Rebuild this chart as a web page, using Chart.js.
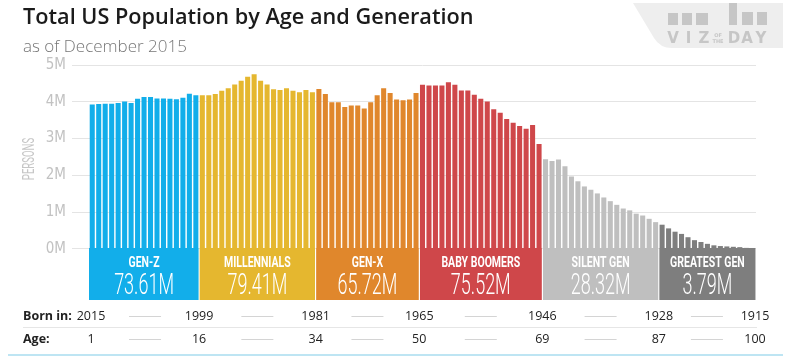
<!DOCTYPE html>
<html>
<head>
<meta charset="utf-8">
<script src="https://cdn.jsdelivr.net/npm/chart.js@4.4.1/dist/chart.umd.min.js"></script>
<style>
html, body { margin: 0; padding: 0; background: #fff; }
#wrap { position: relative; width: 800px; height: 362px; overflow: hidden; }
#pop, #logo { position: absolute; left: 0; top: 0; }
#title { position: absolute; left: 23px; top: 5px; font: 600 21.7px/22px 'Open Sans', sans-serif; color: #1b1b1b; white-space: nowrap; }
#sub { position: absolute; left: 23px; top: 37px; font: 300 17px/17px 'Open Sans', sans-serif; color: #777; white-space: nowrap; }
</style>
</head>
<body>
<div id="wrap">
  <canvas id="pop" width="800" height="362"></canvas>
  <svg id="logo" width="800" height="60">
    <path d="M633,3 L783,3 L783,48 L672,48 Q660,48 654,38 Z" fill="#eeeeee"/>
    <g fill="#c6c6c6">
      <rect x="668" y="13" width="10" height="12"/>
      <rect x="682" y="13" width="10" height="12"/>
      <rect x="696" y="13" width="12" height="12"/>
      <rect x="729" y="3" width="8" height="22"/>
      <rect x="742" y="12" width="11" height="13"/>
      <rect x="757" y="12" width="10" height="13"/>
    </g>
    <g fill="#c6c6c6" font-family="DejaVu Sans" font-weight="bold" font-size="15" text-anchor="middle">
      <text x="673" y="43">V</text>
      <text x="688.5" y="43">I</text>
      <text x="704" y="43">Z</text>
      <text x="734" y="43">D</text>
      <text x="747" y="43">A</text>
      <text x="761" y="43">Y</text>
    </g>
    <g fill="#c6c6c6" font-family="DejaVu Sans" font-weight="bold" font-size="5" text-anchor="middle">
      <text x="718" y="37">OF</text>
      <text x="718" y="43">THE</text>
    </g>
  </svg>
  <div id="title">Total US Population by Age and Generation</div>
  <div id="sub">as of December 2015</div>
</div>
<script>
// population per single year of age, millions, youngest first
var genZ = [3.93, 3.94, 3.95, 3.95, 3.97, 4.01, 3.97, 4.08, 4.13, 4.13, 4.09, 4.09, 4.08, 4.07, 4.11, 4.22, 4.18];
var millennials = [4.18, 4.18, 4.21, 4.30, 4.37, 4.47, 4.57, 4.68, 4.75, 4.57, 4.47, 4.34, 4.32, 4.37, 4.30, 4.26, 4.32, 4.26];
var genX = [4.35, 4.21, 3.99, 3.99, 3.86, 3.90, 3.90, 3.82, 3.99, 4.18, 4.37, 4.24, 4.06, 4.04, 4.06, 4.24];
var boomers = [4.46, 4.44, 4.44, 4.44, 4.53, 4.46, 4.31, 4.31, 4.19, 4.08, 4.01, 3.80, 3.70, 3.53, 3.43, 3.34, 3.27, 3.37, 2.85];
var silent = [2.44, 2.39, 2.43, 2.25, 1.97, 1.84, 1.70, 1.61, 1.51, 1.40, 1.30, 1.20, 1.10, 1.05, 0.96, 0.91, 0.82, 0.73];
var greatest = [0.66, 0.56, 0.47, 0.41, 0.32, 0.24, 0.19, 0.14, 0.10, 0.08, 0.07, 0.06, 0.05, 0.03, 0.02];

var genNames = ['GEN-Z', 'MILLENNIALS', 'GEN-X', 'BABY BOOMERS', 'SILENT GEN', 'GREATEST GEN'];
var genTotals = ['73.61M', '79.41M', '65.72M', '75.52M', '28.32M', '3.79M'];
var genColors = ['#12aeea', '#e5b72f', '#e0872c', '#cf474a', '#bfbfbf', '#7e7e7e'];
var bornIn = ['2015', '1999', '1981', '1965', '1946', '1928', '1915'];
var ageAt = ['1', '16', '34', '50', '69', '87', '100'];
var yTicks = [0, 1, 2, 3, 4, 5];

var groups = [genZ, millennials, genX, boomers, silent, greatest];
var values = [];
var colors = [];
groups.forEach(function (g, gi) {
    g.forEach(function (v) {
        values.push(v * 1e6);
        colors.push(genColors[gi]);
    });
});
var years = values.map(function (v, i) { return String(2015 - i); });
var yMin = -1.386e6;

function squeezed(ctx, text, x, y, font, sx) {
    ctx.save();
    ctx.translate(x, y);
    ctx.scale(sx, 1);
    ctx.font = font;
    ctx.textAlign = 'center';
    ctx.fillText(text, 0, 0);
    ctx.restore();
}

var genBoxes = {
    id: 'genBoxes',
    afterDatasetsDraw: function (chart) {
        var ctx = chart.ctx, x = chart.scales.x, y = chart.scales.y;
        var half = (x.getPixelForValue(1) - x.getPixelForValue(0)) / 2;
        var top = y.getPixelForValue(0) - 1;
        var bottom = chart.chartArea.bottom;
        var start = 0;
        groups.forEach(function (g, gi) {
            var end = start + g.length;
            var x0 = x.getPixelForValue(start) - half;
            var x1 = x.getPixelForValue(end - 1) + half;
            ctx.fillStyle = genColors[gi];
            ctx.fillRect(x0 + (gi ? 0.75 : 0), top, x1 - x0 - (gi ? 0.75 : 0) - 0.75, bottom - top);
            var cx = (x0 + x1) / 2;
            ctx.fillStyle = '#fff';
            squeezed(ctx, genNames[gi], cx, 267, 'bold 15px Roboto', 0.7);
            squeezed(ctx, genTotals[gi], cx, 294, '300 30px Roboto', 0.6);
            start = end;
        });
    },
    afterDraw: function (chart) {
        var ctx = chart.ctx, x = chart.scales.x;
        var half = (x.getPixelForValue(1) - x.getPixelForValue(0)) / 2;
        // boundaries between generations
        var marks = [chart.chartArea.left + 2];
        var n = 0;
        groups.forEach(function (g) {
            n += g.length;
            marks.push(x.getPixelForValue(n - 1) + half);
        });
        marks[marks.length - 1] -= 1;

        ctx.save();
        // persons label
        ctx.translate(29, 159);
        ctx.rotate(-Math.PI / 2);
        ctx.fillStyle = '#c6c6c6';
        squeezed(ctx, 'PERSONS', 0, 5, '16px Roboto', 0.6);
        ctx.restore();

        ctx.save();
        ctx.textBaseline = 'middle';
        ctx.fillStyle = '#222';
        ctx.font = 'bold 12.5px "Open Sans"';
        ctx.textAlign = 'left';
        ctx.fillText('Born in:', 23, 316);
        ctx.fillText('Age:', 23, 339);
        ctx.font = '12.5px "Open Sans"';
        ctx.textAlign = 'center';
        marks.forEach(function (m, i) {
            ctx.fillText(bornIn[i], m, 316);
            ctx.fillText(ageAt[i], m, 339);
        });
        ctx.strokeStyle = '#d4d4d4';
        ctx.lineWidth = 1;
        for (var i = 0; i < marks.length - 1; i++) {
            var mid = (marks[i] + marks[i + 1]) / 2;
            [316.5, 339.5].forEach(function (yy) {
                ctx.beginPath();
                ctx.moveTo(mid - 16, yy);
                ctx.lineTo(mid + 16, yy);
                ctx.stroke();
            });
        }
        ctx.strokeStyle = '#e6e6e6';
        ctx.beginPath();
        ctx.moveTo(23, 327.5);
        ctx.lineTo(757, 327.5);
        ctx.stroke();
        ctx.strokeStyle = '#a9dcef';
        ctx.lineWidth = 1.5;
        ctx.beginPath();
        ctx.moveTo(8, 355);
        ctx.lineTo(783, 355);
        ctx.stroke();
        ctx.restore();
    }
};

new Chart(document.getElementById('pop'), {
    type: 'bar',
    data: {
        labels: years,
        datasets: [{
            data: values,
            backgroundColor: colors,
            base: yMin,
            borderWidth: 0,
            barPercentage: 0.78,
            categoryPercentage: 1.0
        }]
    },
    options: {
        responsive: false,
        animation: false,
        layout: { padding: { left: 0, right: 44, top: 65, bottom: 62 } },
        plugins: { legend: { display: false }, tooltip: { enabled: false }, title: { display: false } },
        scales: {
            x: { display: false },
            y: {
                min: yMin,
                max: 5e6,
                afterBuildTicks: function (s) {
                    s.ticks = yTicks.map(function (v) { return { value: v * 1e6 }; });
                },
                afterFit: function (s) { s.width = 89; },
                border: { display: false },
                grid: { color: '#e4e4e4', tickLength: 17, drawTicks: true },
                ticks: {
                    color: '#c2c2c2',
                    padding: 6,
                    font: { family: "'Liberation Sans Narrow', 'DejaVu Sans Condensed', Roboto", size: 15 },
                    callback: function (v) { return (v / 1e6) + 'M'; }
                }
            }
        }
    },
    plugins: [genBoxes]
});
</script>
</body>
</html>
